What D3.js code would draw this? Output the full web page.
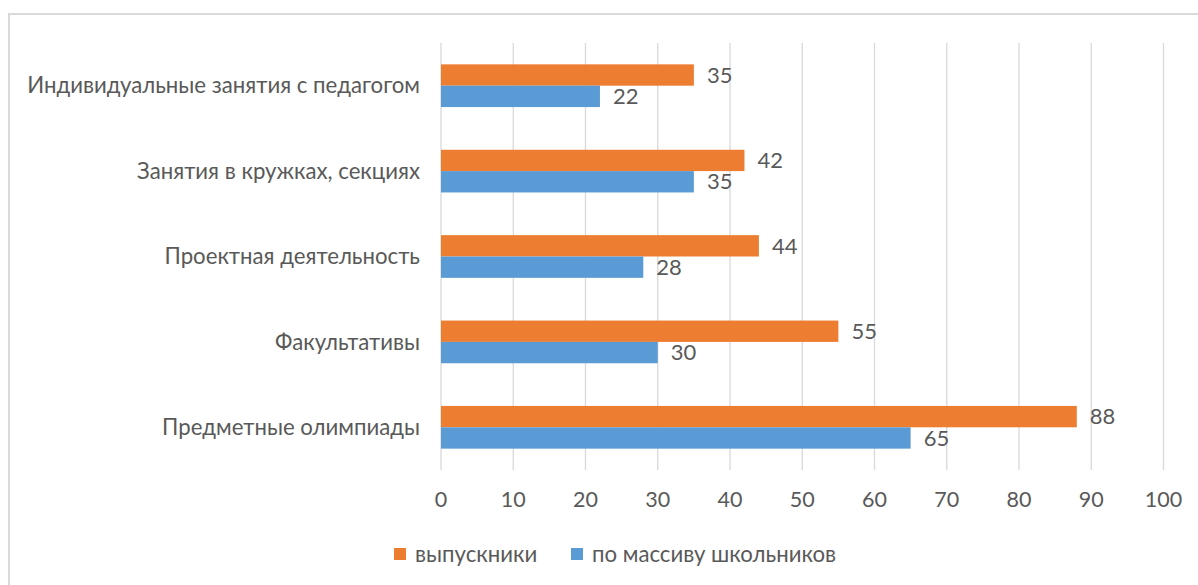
<!DOCTYPE html>
<html><head><meta charset="utf-8">
<script src="https://cdn.jsdelivr.net/npm/d3@7"></script>
<style>body{margin:0;background:#fff;}svg{display:block;font-family:"Lato","Open Sans",sans-serif;}</style>
</head><body><svg id="c" width="1198" height="585"></svg>
<script>
const categories = ["Индивидуальные занятия с педагогом","Занятия в кружках, секциях","Проектная деятельность","Факультативы","Предметные олимпиады"];
const seriesNames = ["выпускники","по массиву школьников"];
const graduates = [35,42,44,55,88];
const students = [22,35,28,30,65];
const ticks = [0,10,20,30,40,50,60,70,80,90,100];
const colors = ["#ED7D31","#5B9BD5"];

const svg = d3.select("#c");
const textColor = "#595959";
svg.append("path").attr("d","M9,585 V14 H1198").attr("fill","none").attr("stroke","#d9d9d9").attr("stroke-width",2);

const x = d3.scaleLinear().domain([0,100]).range([441,1163.5]);
const y = d3.scaleBand().domain(categories).range([43,470]).paddingInner(0.5).paddingOuter(0.25);
const inner = d3.scaleBand().domain(seriesNames).range([0,y.bandwidth()]);

svg.append("g").selectAll("line").data(ticks).join("line")
  .attr("x1",d=>x(d)).attr("x2",d=>x(d)).attr("y1",43).attr("y2",470)
  .attr("stroke","#d9d9d9").attr("stroke-width",1.3);

svg.append("g").selectAll("text").data(ticks).join("text")
  .attr("x",d=>x(d)).attr("y",507).attr("text-anchor","middle")
  .attr("fill",textColor).attr("font-size",21.5).text(d=>d);

svg.append("g").selectAll("text").data(categories).join("text")
  .attr("x",420).attr("y",d=>y(d)+y.bandwidth()/2).attr("dy","0.35em").attr("text-anchor","end")
  .attr("fill",textColor).attr("font-size",22.2).text(d=>d);

const series = [graduates, students];
series.forEach((vals,si)=>{
  const g = svg.append("g");
  g.selectAll("rect").data(vals).join("rect")
    .attr("x",x(0)).attr("y",(d,i)=>y(categories[i])+inner(seriesNames[si]))
    .attr("width",d=>x(d)-x(0)).attr("height",inner.bandwidth())
    .attr("fill",colors[si]);
  g.selectAll("text").data(vals).join("text")
    .attr("x",d=>x(d)+13).attr("y",(d,i)=>y(categories[i])+inner(seriesNames[si])+inner.bandwidth()/2)
    .attr("dy","0.35em").attr("fill",textColor).attr("font-size",22).text(d=>d);
});

const legX = [394,571];
seriesNames.forEach((n,i)=>{
  svg.append("rect").attr("x",legX[i]).attr("y",548).attr("width",12).attr("height",12).attr("fill",colors[i]);
  svg.append("text").attr("x",legX[i]+21).attr("y",554).attr("dy","0.35em").attr("fill",textColor).attr("font-size",22.2).text(n);
});
</script></body></html>
